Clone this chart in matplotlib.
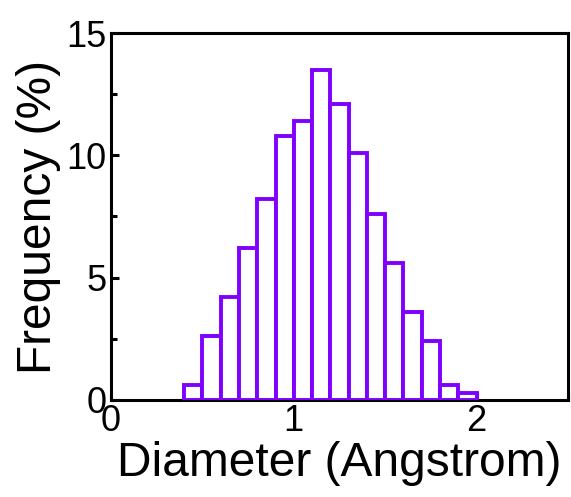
import matplotlib
matplotlib.use("Agg")
import matplotlib.pyplot as plt
import numpy as np
from matplotlib.ticker import MultipleLocator

# histogram of diameters, bin width 0.1 Angstrom
bin_left = [0.4, 0.5, 0.6, 0.7, 0.8, 0.9, 1.0, 1.1, 1.2, 1.3, 1.4, 1.5, 1.6, 1.7, 1.8, 1.9]
frequency = [0.6, 2.6, 4.2, 6.2, 8.2, 10.8, 11.4, 13.5, 12.1, 10.1, 7.6, 5.6, 3.6, 2.4, 0.6, 0.3]
bin_width = 0.1

plt.rcParams['font.family'] = ['Liberation Sans', 'DejaVu Sans']

fig = plt.figure(figsize=(5.71, 4.97), dpi=100)
ax = fig.add_axes([0.1944, 0.1952, 0.8003, 0.7384])

ax.bar(bin_left, frequency, width=bin_width, align="edge",
       facecolor="white", edgecolor="#7F00FF", linewidth=2.8, zorder=3)

ax.set_xlim(0, 2.5)
ax.set_ylim(0, 15)
ax.xaxis.set_major_locator(MultipleLocator(1))
ax.xaxis.set_minor_locator(MultipleLocator(0.5))
ax.yaxis.set_major_locator(MultipleLocator(5))
ax.yaxis.set_minor_locator(MultipleLocator(2.5))

for s in ax.spines.values():
    s.set_linewidth(2.2)
ax.tick_params(which="both", direction="in", width=2.2, labelsize=26, pad=3)
ax.tick_params(which="major", length=6)
ax.tick_params(which="minor", length=4.5)

ax.set_xlabel("Diameter (Angstrom)", fontsize=34.5, labelpad=1)
ax.set_ylabel("Frequency (%)", fontsize=34.5, labelpad=4)

fig.savefig("out.png", dpi=100)
